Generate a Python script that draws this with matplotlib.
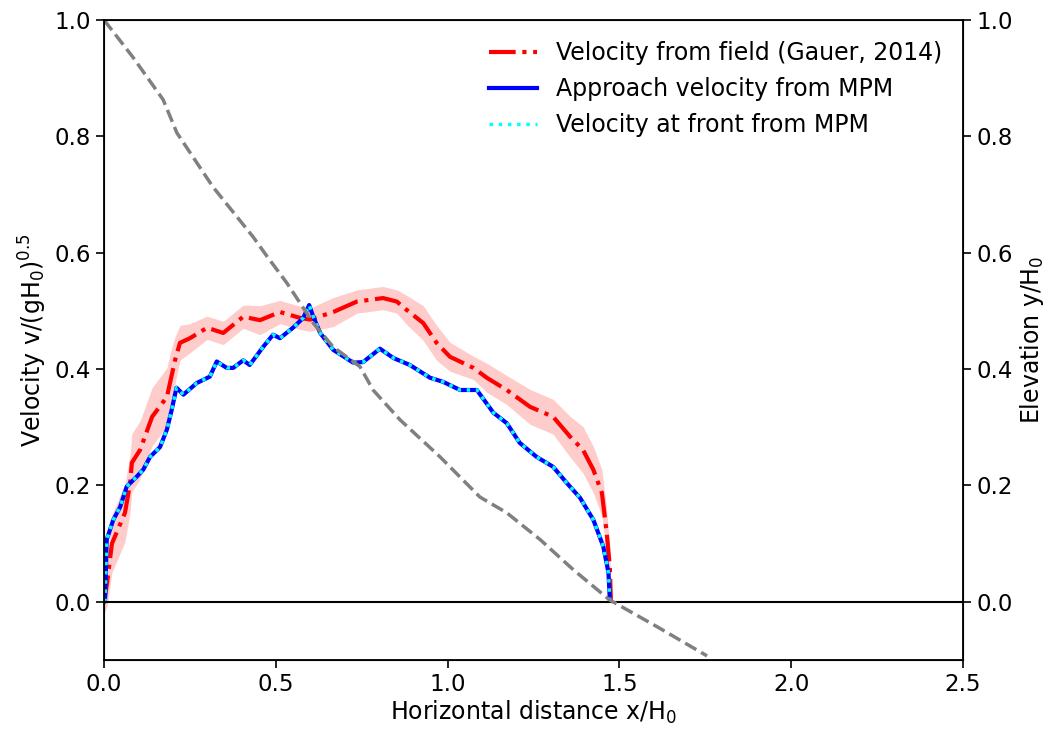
import numpy as np
import matplotlib.pyplot as plt

# field velocity (Gauer, 2014) with uncertainty band
x_field = np.array([0.0, 0.009, 0.023, 0.061, 0.076, 0.081, 0.105, 0.14, 0.183, 0.192,
                    0.207, 0.221, 0.25, 0.30, 0.347, 0.405, 0.454, 0.512, 0.57, 0.60,
                    0.667, 0.736, 0.812, 0.852, 0.88, 0.929, 0.968, 1.007, 1.075, 1.114,
                    1.172, 1.24, 1.307, 1.356, 1.394, 1.424, 1.449, 1.463, 1.472, 1.475])
v_field = np.array([0.0, 0.033, 0.10, 0.153, 0.204, 0.239, 0.261, 0.318, 0.352, 0.376,
                    0.416, 0.445, 0.453, 0.471, 0.462, 0.490, 0.484, 0.498, 0.488, 0.485,
                    0.498, 0.516, 0.522, 0.516, 0.502, 0.479, 0.445, 0.421, 0.402, 0.385,
                    0.364, 0.335, 0.318, 0.284, 0.261, 0.227, 0.187, 0.118, 0.06, 0.003])
dv_field = np.array([0.02, 0.04, 0.05, 0.05, 0.05, 0.05, 0.05, 0.05, 0.05, 0.05,
                     0.04, 0.03, 0.025, 0.02, 0.02, 0.02, 0.025, 0.02, 0.02, 0.02,
                     0.025, 0.02, 0.02, 0.02, 0.025, 0.03, 0.03, 0.025, 0.02, 0.025,
                     0.025, 0.03, 0.03, 0.035, 0.04, 0.04, 0.04, 0.04, 0.03, 0.02])

# MPM velocities (approach and front coincide)
x_mpm = np.array([0.0, 0.003, 0.008, 0.027, 0.047, 0.066, 0.095, 0.114, 0.134, 0.163,
                  0.183, 0.197, 0.211, 0.231, 0.27, 0.308, 0.328, 0.357, 0.376, 0.405,
                  0.424, 0.463, 0.492, 0.512, 0.55, 0.58, 0.597, 0.609, 0.629, 0.667,
                  0.725, 0.754, 0.803, 0.842, 0.89, 0.949, 0.987, 1.036, 1.085, 1.133,
                  1.172, 1.21, 1.259, 1.307, 1.347, 1.385, 1.424, 1.453, 1.468, 1.472])
v_approach = np.array([0.0, 0.003, 0.107, 0.141, 0.163, 0.198, 0.215, 0.227, 0.249, 0.266,
                       0.296, 0.330, 0.368, 0.356, 0.376, 0.387, 0.413, 0.402, 0.402, 0.415,
                       0.407, 0.438, 0.459, 0.453, 0.471, 0.488, 0.510, 0.490, 0.462, 0.433,
                       0.411, 0.412, 0.435, 0.419, 0.407, 0.385, 0.378, 0.364, 0.364, 0.325,
                       0.307, 0.273, 0.249, 0.232, 0.204, 0.179, 0.141, 0.095, 0.050, 0.003])
v_front = v_approach.copy()

# slope elevation
x_elev = np.array([0.0, 0.084, 0.172, 0.212, 0.317, 0.434, 0.474, 0.532, 0.609, 0.667,
                   0.745, 0.783, 0.861, 0.978, 1.094, 1.172, 1.269, 1.366, 1.472, 1.61, 1.755])
y_elev = np.array([1.0, 0.936, 0.863, 0.806, 0.713, 0.627, 0.594, 0.548, 0.479, 0.438,
                   0.404, 0.364, 0.313, 0.249, 0.18, 0.153, 0.107, 0.055, 0.003, -0.043, -0.093])

plt.rcParams['font.size'] = 17
plt.rcParams['xtick.labelsize'] = 16.5
plt.rcParams['ytick.labelsize'] = 16.5

fig = plt.figure(figsize=(10.56, 7.38), dpi=100)
ax = fig.add_axes([0.0985, 0.1057, 0.8135, 0.8673])

ax.fill_between(x_field, v_field - dv_field, v_field + dv_field,
                color='red', alpha=0.2, linewidth=0)
ax.plot(x_field, v_field, color='red', linestyle='-.', linewidth=3,
        label='Velocity from field (Gauer, 2014)')
ax.plot(x_mpm, v_approach, color='blue', linestyle='-', linewidth=3,
        label='Approach velocity from MPM')
ax.plot(x_mpm, v_front, color='cyan', linestyle=':', linewidth=2.5,
        label='Velocity at front from MPM')
ax.axhline(0, color='black', linewidth=1.5)

ax.set_xlim(0, 2.5)
ax.set_ylim(-0.1, 1.0)
ax.set_yticks([0.0, 0.2, 0.4, 0.6, 0.8, 1.0])
ax.set_xlabel('Horizontal distance x/H$_0$', labelpad=2)
ax.set_ylabel('Velocity v/(gH$_0$)$^{0.5}$')
ax.tick_params(length=6, width=1.2)
for s in ax.spines.values():
    s.set_linewidth(1.3)

ax2 = ax.twinx()
ax2.plot(x_elev, y_elev, color='gray', linestyle='--', linewidth=2.5)
ax2.set_ylim(-0.1, 1.0)
ax2.set_yticks([0.0, 0.2, 0.4, 0.6, 0.8, 1.0])
ax2.set_ylabel('Elevation y/H$_0$')
ax2.tick_params(length=6, width=1.2)

ax.legend(loc='upper right', frameon=False, handlelength=2.0)

fig.savefig('out.png', dpi=100)
